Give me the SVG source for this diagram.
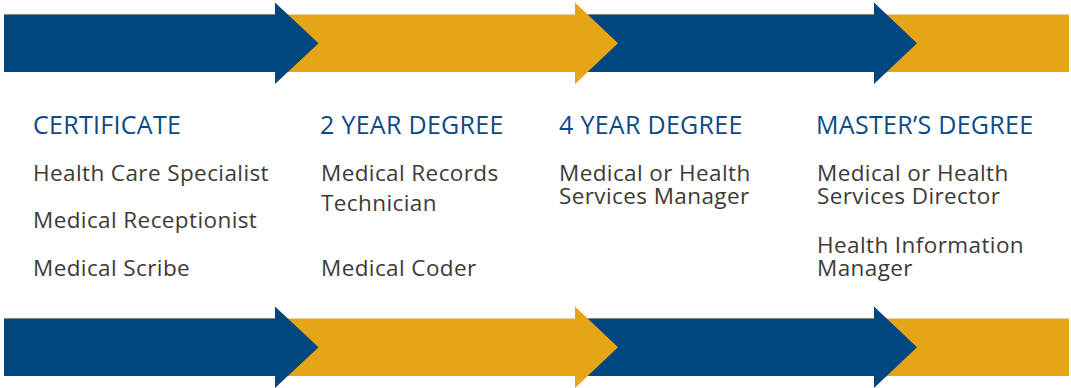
<svg xmlns="http://www.w3.org/2000/svg" width="1071" height="388" viewBox="0 0 1071 388">
<style>
.blue{fill:#00467F}
.orange{fill:#E6A514}
.h{font-family:"Open Sans","Liberation Sans",sans-serif;font-size:25px;letter-spacing:0.3px;fill:#0B4A86}
.b{font-family:"Open Sans","Liberation Sans",sans-serif;font-size:22.5px;letter-spacing:0.4px;fill:#3E3A36}
</style>
<rect width="1071" height="388" fill="#fff"/>
<defs>
<g id="band">
<rect class="orange" x="4" y="14.5" width="1065" height="57.5"/>
<polygon class="blue" points="4,14.5 275,14.5 275,2.5 318.5,43.2 275,84 275,72 4,72"/>
<polygon class="blue" points="575,14.5 874,14.5 874,2.5 917,43.2 874,84 874,72 575,72"/>
<polygon class="orange" points="575,2.5 618,43.2 575,84"/>
</g>
</defs>
<g id="connectors">
<use href="#band"/>
<use href="#band" transform="translate(0,304)"/>
</g>
<g id="certificate">
<text class="h" x="33" y="133.7">CERTIFICATE</text>
<text class="b" x="33" y="181">Health Care Specialist</text>
<text class="b" x="33" y="228.3">Medical Receptionist</text>
<text class="b" x="33" y="276">Medical Scribe</text>
</g>
<g id="two-year">
<text class="h" x="320" y="133.7">2 YEAR DEGREE</text>
<text class="b" x="321" y="181">Medical Records</text>
<text class="b" x="321" y="211">Technician</text>
<text class="b" x="321" y="276">Medical Coder</text>
</g>
<g id="four-year">
<text class="h" x="559" y="133.7">4 YEAR DEGREE</text>
<text class="b" x="559" y="181">Medical or Health</text>
<text class="b" x="559" y="204">Services Manager</text>
</g>
<g id="masters">
<text class="h" x="816" y="133.7">MASTER’S DEGREE</text>
<text class="b" x="817" y="181">Medical or Health</text>
<text class="b" x="817" y="204">Services Director</text>
<text class="b" x="817" y="253">Health Information</text>
<text class="b" x="817" y="276">Manager</text>
</g>
</svg>
